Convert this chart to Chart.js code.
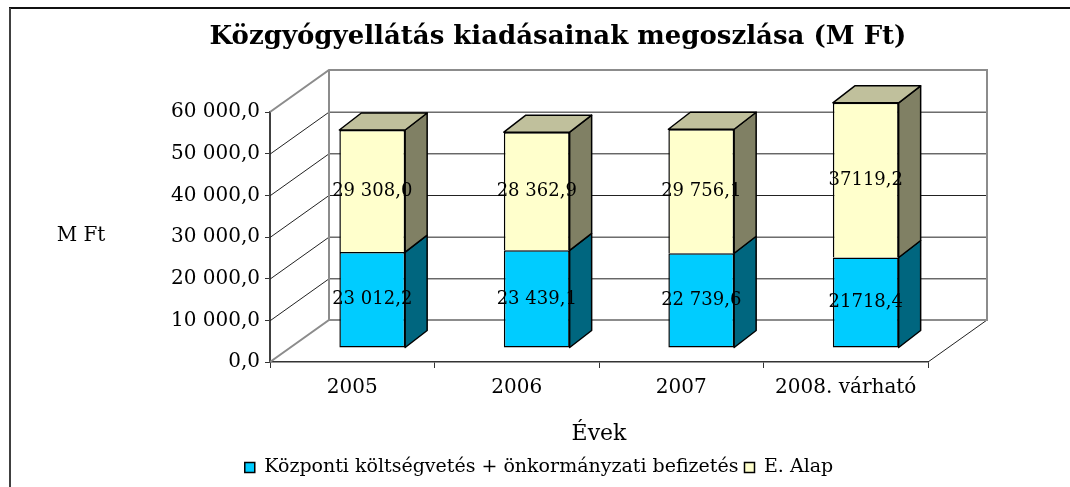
<!DOCTYPE html>
<html lang="hu">
<head>
<meta charset="UTF-8">
<title>Közgyógyellátás kiadásainak megoszlása</title>
<script src="https://cdn.jsdelivr.net/npm/chart.js"></script>
<style>
  body { margin: 0; background: #fff; }
  #wrap { width: 1070px; height: 487px; }
</style>
</head>
<body>
<div id="wrap"><canvas id="chart" width="1070" height="487"></canvas></div>
<script>
const categories = ['2005', '2006', '2007', '2008. várható'];
const kozpontiValues = [23012.2, 23439.1, 22739.6, 21718.4];
const eAlapValues = [29308.0, 28362.9, 29756.1, 37119.2];
// the 2008 labels are printed without the thousands space
const groupThousands = [true, true, true, false];
const yMax = 60000;
const yStep = 10000;

// fake 3D offsets
const WALL_DX = 59, WALL_DY = -42;
const BAR_DX = 20, BAR_DY = -14;
const SIDE_DX = 22, SIDE_DY = -17;

const faceColors = [
    { front: '#00CCFF', side: '#00667F', top: '#4FB8D0' },
    { front: '#FFFFCC', side: '#808064', top: '#C0C09C' }
];

function fmt(v, group) {
    let s = v.toFixed(1).replace('.', ',');
    if (group) s = s.replace(/\B(?=(\d{3})+(?!\d))/g, ' ');
    return s;
}

function line(ctx, x1, y1, x2, y2) {
    ctx.beginPath();
    ctx.moveTo(x1, y1);
    ctx.lineTo(x2, y2);
    ctx.stroke();
}

function poly(ctx, pts, fill) {
    ctx.beginPath();
    ctx.moveTo(pts[0][0], pts[0][1]);
    for (let i = 1; i < pts.length; i++) ctx.lineTo(pts[i][0], pts[i][1]);
    ctx.closePath();
    ctx.fillStyle = fill;
    ctx.fill();
    ctx.stroke();
}

const threeD = {
    id: 'threeD',
    beforeDraw(chart) {
        const ctx = chart.ctx;
        ctx.save();
        ctx.fillStyle = '#fff';
        ctx.fillRect(0, 0, chart.width, chart.height);
        ctx.lineWidth = 2;
        ctx.strokeStyle = '#111';
        line(ctx, 9, 8, chart.width + 2, 8);
        ctx.strokeStyle = '#404040';
        line(ctx, 10, 8, 10, chart.height);
        ctx.restore();
    },
    beforeDatasetsDraw(chart) {
        const ctx = chart.ctx;
        const { left, right } = chart.chartArea;
        const ys = chart.scales.y;
        const y0 = ys.getPixelForValue(0);
        const yT = ys.getPixelForValue(ys.max);
        ctx.save();
        ctx.lineWidth = 1;
        ctx.strokeStyle = '#222';
        ys.ticks.forEach(t => {
            if (t.value === 0 || t.value === ys.max) return;
            const py = ys.getPixelForValue(t.value) + 0.5;
            line(ctx, left, py, left + WALL_DX, py + WALL_DY);
            line(ctx, left + WALL_DX, py + WALL_DY, right + WALL_DX, py + WALL_DY);
        });
        line(ctx, right, y0, right + WALL_DX, y0 + WALL_DY);
        ctx.strokeStyle = '#8c8c8c';
        ctx.lineWidth = 2;
        ctx.beginPath();
        ctx.moveTo(left, yT);
        ctx.lineTo(left + WALL_DX, yT + WALL_DY);
        ctx.lineTo(right + WALL_DX, yT + WALL_DY);
        ctx.lineTo(right + WALL_DX, y0 + WALL_DY);
        ctx.lineTo(left + WALL_DX, y0 + WALL_DY);
        ctx.lineTo(left, y0);
        ctx.stroke();
        line(ctx, left + WALL_DX, yT + WALL_DY, left + WALL_DX, y0 + WALL_DY);
        ctx.restore();

        // bars are drawn a bit back inside the box
        ctx.save();
        ctx.translate(BAR_DX, BAR_DY);
    },
    afterDatasetsDraw(chart) {
        const ctx = chart.ctx;
        ctx.restore();
        ctx.save();
        ctx.strokeStyle = '#000';
        ctx.lineWidth = 1.5;
        ctx.lineJoin = 'round';
        const last = chart.data.datasets.length - 1;
        chart.data.datasets.forEach((ds, di) => {
            chart.getDatasetMeta(di).data.forEach(el => {
                const p = el.getProps(['x', 'y', 'base', 'width'], true);
                const xl = p.x - p.width / 2 + BAR_DX;
                const xr = p.x + p.width / 2 + BAR_DX;
                const yt = p.y + BAR_DY;
                const yb = p.base + BAR_DY;
                poly(ctx, [[xr, yt], [xr + SIDE_DX, yt + SIDE_DY], [xr + SIDE_DX, yb + SIDE_DY], [xr, yb]], faceColors[di].side);
                if (di === last) {
                    poly(ctx, [[xl, yt], [xl + SIDE_DX, yt + SIDE_DY], [xr + SIDE_DX, yt + SIDE_DY], [xr, yt]], faceColors[di].top);
                }
            });
        });
        ctx.fillStyle = '#000';
        ctx.font = '18px "DejaVu Serif"';
        ctx.textAlign = 'center';
        ctx.textBaseline = 'middle';
        chart.data.datasets.forEach((ds, di) => {
            chart.getDatasetMeta(di).data.forEach((el, i) => {
                const p = el.getProps(['x', 'y', 'base'], true);
                ctx.fillText(fmt(ds.data[i], groupThousands[i]), p.x + BAR_DX, (p.y + p.base) / 2 + BAR_DY);
            });
        });
        ctx.restore();
    },
    afterDraw(chart) {
        const ctx = chart.ctx;
        ctx.save();
        ctx.fillStyle = '#000';
        ctx.textAlign = 'center';
        ctx.textBaseline = 'middle';
        ctx.font = 'bold 26px "DejaVu Serif"';
        ctx.fillText('Közgyógyellátás kiadásainak megoszlása (M Ft)', 558, 37);
        ctx.font = '20px "DejaVu Serif"';
        ctx.fillText('M Ft', 81, 236);
        ctx.restore();
    }
};

Chart.defaults.font.family = '"DejaVu Serif", serif';
Chart.defaults.color = '#000';

new Chart(document.getElementById('chart'), {
    type: 'bar',
    data: {
        labels: categories,
        datasets: [
            {
                label: 'Központi költségvetés + önkormányzati befizetés',
                data: kozpontiValues,
                backgroundColor: faceColors[0].front,
                borderColor: '#000',
                borderWidth: 1.5,
                borderSkipped: false,
                clip: false
            },
            {
                label: 'E. Alap',
                data: eAlapValues,
                backgroundColor: faceColors[1].front,
                borderColor: '#000',
                borderWidth: 1.5,
                borderSkipped: 'bottom',
                clip: false
            }
        ]
    },
    options: {
        responsive: false,
        animation: false,
        barPercentage: 0.4,
        categoryPercentage: 1,
        layout: { padding: { left: 150, right: 142, top: 112, bottom: 0 } },
        scales: {
            x: {
                stacked: true,
                grid: { drawOnChartArea: false, drawTicks: true, tickLength: 6, color: '#333', offset: true },
                border: { display: true, color: '#333', width: 1.5 },
                ticks: { font: { size: 20 }, padding: 8, maxRotation: 0 },
                title: { display: true, text: 'Évek', font: { size: 22 }, padding: { top: 0, bottom: 5 } },
                afterFit(scale) {
                    const lg = scale.chart.legend;
                    scale.height = 487 - 362 - (lg && lg.height ? lg.height : 36);
                }
            },
            y: {
                stacked: true,
                min: 0,
                max: yMax,
                ticks: { stepSize: yStep, font: { size: 20 }, padding: 5, callback: v => fmt(v, true) },
                grid: { drawOnChartArea: false, drawTicks: true, tickLength: 5, color: '#333' },
                border: { display: true, color: '#404040', width: 2 },
                afterFit(scale) { scale.width = 120; }
            }
        },
        plugins: {
            title: { display: false },
            tooltip: { enabled: false },
            legend: {
                position: 'bottom',
                labels: { boxWidth: 10, boxHeight: 10, padding: 6, font: { size: 19 }, color: '#000' }
            }
        }
    },
    plugins: [threeD]
});
</script>
</body>
</html>
